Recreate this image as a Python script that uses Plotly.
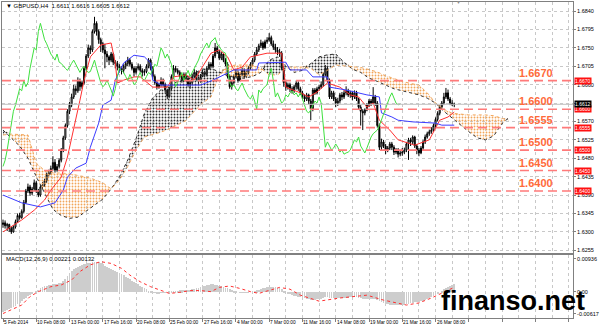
import plotly.graph_objects as go

# ---------------- data (prices in pips: 6612 -> 1.6612) ----------------
FIRST_OPEN = 6318
CLOSE = [
 6322,6315,6318,6308,6300,6312,6325,6340,6335,6350,
 6372,6400,6410,6395,6405,6420,6400,6390,6410,6415,
 6425,6440,6445,6455,6470,6451,6460,6475,6500,6530,
 6560,6595,6610,6630,6650,6645,6670,6655,6665,6700,
 6730,6750,6745,6790,6810,6790,6770,6760,6745,6735,
 6728,6720,6735,6715,6712,6705,6700,6695,6705,6712,
 6720,6710,6700,6690,6700,6705,6695,6690,6692,6705,
 6720,6700,6680,6665,6655,6660,6671,6660,6647,6632,
 6650,6680,6700,6695,6690,6680,6670,6685,6675,6660,
 6665,6680,6690,6675,6670,6680,6690,6685,6700,6710,
 6705,6730,6750,6740,6725,6735,6720,6710,6680,6655,
 6665,6680,6690,6670,6685,6695,6680,6690,6700,6710,
 6720,6735,6745,6755,6762,6750,6765,6769,6775,6760,
 6752,6745,6740,6737,6700,6665,6654,6660,6650,6645,
 6655,6664,6650,6640,6630,6625,6635,6620,6600,6647,
 6640,6650,6654,6660,6685,6700,6670,6630,6640,6625,
 6615,6620,6635,6630,6640,6645,6635,6640,6630,6640,
 6625,6605,6595,6591,6598,6610,6620,6615,6630,6615,
 6560,6507,6520,6510,6500,6505,6515,6507,6495,6500,
 6490,6493,6495,6500,6515,6525,6520,6532,6510,6500,
 6493,6505,6520,6532,6540,6545,6549,6560,6575,6590,
 6605,6615,6630,6640,6625,6615,6611,6612]
HIGH = [
 6330,6328,6322,6320,6312,6316,6330,6345,6346,6355,
 6378,6405,6418,6415,6410,6428,6425,6405,6415,6422,
 6430,6445,6452,6462,6485,6478,6466,6480,6505,6535,
 6565,6600,6618,6638,6660,6658,6678,6675,6670,6705,
 6735,6758,6756,6795,6826,6815,6795,6775,6765,6760,
 6742,6732,6740,6738,6720,6718,6710,6705,6710,6718,
 6728,6725,6715,6705,6705,6712,6710,6700,6698,6710,
 6725,6724,6705,6685,6670,6665,6678,6675,6665,6650,
 6655,6685,6708,6706,6700,6695,6685,6690,6690,6680,
 6672,6685,6698,6695,6680,6686,6696,6694,6705,6716,
 6715,6735,6762,6755,6745,6740,6738,6725,6715,6685,
 6672,6685,6698,6695,6690,6702,6700,6695,6706,6715,
 6725,6740,6752,6760,6770,6766,6770,6776,6786,6780,
 6768,6760,6752,6748,6742,6705,6672,6665,6665,6656,
 6660,6670,6668,6655,6645,6636,6640,6638,6625,6652,
 6652,6655,6660,6668,6690,6708,6705,6675,6645,6645,
 6630,6628,6640,6642,6646,6656,6650,6645,6645,6646,
 6645,6628,6610,6600,6602,6615,6625,6625,6654,6635,
 6620,6565,6528,6525,6515,6510,6520,6520,6512,6505,
 6505,6500,6505,6506,6520,6530,6530,6536,6535,6515,
 6505,6510,6525,6538,6545,6550,6556,6565,6580,6595,
 6610,6620,6640,6652,6648,6630,6622,6616]
LOW = [
 6310,6308,6302,6300,6295,6298,6308,6322,6330,6332,
 6345,6368,6395,6388,6390,6400,6395,6385,6386,6405,
 6410,6420,6435,6440,6450,6445,6447,6455,6470,6495,
 6525,6555,6588,6605,6625,6635,6640,6645,6650,6660,
 6695,6725,6735,6740,6785,6780,6760,6740,6738,6700,
 6715,6708,6715,6708,6700,6695,6690,6685,6688,6698,
 6705,6705,6695,6680,6685,6695,6690,6680,6682,6688,
 6700,6695,6675,6660,6648,6650,6655,6655,6640,6625,
 6628,6645,6675,6690,6685,6675,6665,6668,6670,6655,
 6650,6660,6676,6670,6662,6665,6678,6678,6680,6696,
 6700,6700,6725,6735,6720,6720,6715,6705,6675,6650,
 6648,6660,6675,6665,6668,6680,6675,6676,6685,6696,
 6705,6715,6730,6740,6750,6745,6748,6760,6765,6755,
 6745,6738,6732,6728,6695,6655,6645,6648,6642,6638,
 6640,6648,6645,6635,6625,6618,6620,6612,6573,6595,
 6635,6636,6645,6650,6655,6680,6665,6625,6625,6620,
 6605,6608,6615,6622,6625,6634,6630,6628,6622,6625,
 6620,6600,6560,6549,6585,6595,6605,6608,6612,6608,
 6555,6500,6500,6505,6490,6495,6500,6500,6488,6490,
 6482,6485,6486,6490,6495,6476,6510,6515,6505,6490,
 6485,6490,6500,6515,6528,6535,6540,6545,6555,6570,
 6585,6600,6610,6625,6620,6610,6608,6605]

# Tenkan-sen (red) and Kijun-sen (blue), read at bar indices
TK_IDX = [0,9,15,20,23,28,31,34,37,39,42,47,52,54,55,58,63,66,72,79,82,88,92,95,100,104,108,111,115,119,
          127,134,136,143,147,151,156,162,167,171,175,178,181,186,190,198,205,210,214,217]
TK_VAL = [6300,6329,6353,6378,6402,6434,6483,6549,6622,6671,6728,6757,6762,6713,6664,6671,6679,6679,6654,6654,
          6679,6684,6671,6696,6737,6745,6728,6696,6703,6728,6737,6737,6654,6640,6630,6642,6664,6654,6635,6630,
          6605,6615,6573,6549,6525,6512,6525,6573,6581,6593]
KJ_IDX = [0,9,18,25,29,31,35,40,42,46,48,52,54,58,63,68,71,72,76,95,101,111,122,123,136,138,146,149,156,157,
          165,175,181,182,187,190,197,208,211,217]
KJ_VAL = [6390,6371,6361,6371,6402,6434,6456,6468,6507,6566,6610,6622,6671,6713,6732,6728,6713,6671,6659,6659,
          6671,6696,6696,6713,6715,6696,6696,6679,6679,6654,6647,6635,6630,6591,6581,6573,6569,6566,6561,6561]

# Senkou span A / B (cloud), read every 4 bars (+ last projected bar)
CLOUD_IDX = list(range(0, 244, 4)) + [243]
SPAN_A = [6549,6529,6510,6480,6435,6395,6355,6340,6333,6336,
          6350,6365,6380,6405,6435,6476,6528,6590,6628,6648,
          6658,6668,6680,6690,6698,6700,6691,6682,6677,6676,
          6680,6690,6720,6728,6705,6690,6695,6712,6728,6733,
          6735,6715,6698,6690,6676,6668,6658,6650,6645,6640,
          6635,6627,6615,6595,6578,6560,6545,6530,6525,6535,
          6565,6578]
SPAN_B = [6537,6539,6538,6537,6468,6450,6444,6444,6442,6438,
          6434,6428,6420,6405,6427,6460,6500,6532,6538,6544,
          6552,6563,6572,6595,6615,6630,6684,6705,6708,6708,
          6708,6700,6684,6684,6700,6703,6703,6700,6684,6695,
          6708,6706,6704,6702,6697,6691,6682,6675,6668,6663,
          6659,6640,6615,6600,6590,6588,6586,6586,6586,6584,
          6578,6573]

# MACD histogram (units of 1e-5) per bar and signal line
HIST = [
 -560,-540,-515,-490,-460,-425,-385,-345,-300,-255,
 -210,-165,-120,-75,-35,0,35,70,105,135,
 160,180,195,205,215,225,235,245,255,300,
 380,450,530,590,640,680,710,740,770,790,
 805,820,830,840,848,855,860,830,790,750,
 710,680,650,625,595,570,540,505,470,435,
 400,360,320,285,250,215,180,150,110,75,
 40,10,-10,-20,-30,-30,-25,-20,-10,0,
 10,20,30,30,40,50,50,60,60,60,
 70,80,90,100,120,140,160,180,200,210,
 220,215,205,190,175,160,140,120,100,80,
 60,40,20,0,-10,-20,-20,-15,-10,0,
 10,30,50,70,90,110,125,135,140,140,
 140,135,125,110,80,40,0,-30,-60,-80,
 -100,-120,-135,-150,-165,-180,-190,-200,-215,-220,
 -220,-210,-200,-185,-165,-150,-150,-160,-170,-175,
 -180,-180,-175,-170,-165,-160,-160,-155,-150,-150,
 -150,-160,-175,-190,-200,-205,-205,-200,-195,-195,
 -220,-260,-290,-310,-330,-345,-355,-360,-365,-365,
 -365,-365,-360,-355,-345,-335,-320,-305,-295,-285,
 -275,-260,-245,-225,-200,-170,-140,-110,-80,-40,
 0,40,80,120,155,180,205,221]
SIG_IDX = [0,4,9,13,17,23,28,33,37,42,47,52,57,61,66,71,76,80,85,90,95,100,104,109,114,119,123,128,133,138,
           143,152,162,175,183,194,200,206,212,217]
SIG_VAL = [-610,-510,-370,-130,10,150,200,340,580,770,860,810,670,480,290,150,40,-40,-10,40,40,10,130,170,100,
           10,-40,40,130,80,-90,-260,-170,-90,-230,-370,-310,-170,0,132]

LEVELS = [1.6670, 1.6600, 1.6555, 1.6500, 1.6450, 1.6400]
BID = 1.6612
X_LABELS = ["5 Feb 2014", "10 Feb 08:00", "13 Feb 00:00", "17 Feb 16:00", "20 Feb 08:00",
            "25 Feb 00:00", "27 Feb 16:00", "4 Mar 00:00", "7 Mar 00:00", "11 Mar 16:00",
            "14 Mar 08:00", "19 Mar 00:00", "21 Mar 16:00", "26 Mar 08:00"]
BARS_PER_LABEL = 16

# ---------------- build ----------------
assert len(CLOSE) == len(HIGH) == len(LOW) == len(HIST) == 218
assert len(SPAN_A) == len(SPAN_B) == len(CLOUD_IDX)
assert len(TK_IDX) == len(TK_VAL) and len(KJ_IDX) == len(KJ_VAL) and len(SIG_IDX) == len(SIG_VAL)

def px(v):
    return 1.0 + v / 10000.0

n = len(CLOSE)
idx = list(range(n))
opens = [FIRST_OPEN] + CLOSE[:-1]
o = [px(v) for v in opens]
c = [px(v) for v in CLOSE]
h = [max(px(a), oo, cc) for a, oo, cc in zip(HIGH, o, c)]
l = [min(px(a), oo, cc) for a, oo, cc in zip(LOW, o, c)]

A = [px(v) for v in SPAN_A]
B = [px(v) for v in SPAN_B]
MX = [max(a, b) for a, b in zip(A, B)]

FONT = "Liberation Sans"
ORANGE = "#F2A65A"
fig = go.Figure()
nohover = dict(hoverinfo="skip", showlegend=False)

# cloud: orange where B above A, dark where A above B
fig.add_trace(go.Scatter(x=CLOUD_IDX, y=A, mode="lines", line=dict(width=0), **nohover))
fig.add_trace(go.Scatter(x=CLOUD_IDX, y=MX, mode="lines", line=dict(width=0), fill="tonexty",
                         fillcolor="rgba(0,0,0,0)",
                         fillpattern=dict(shape=".", fgcolor=ORANGE, bgcolor="rgba(0,0,0,0)",
                                          size=3, solidity=0.3, fillmode="replace"), **nohover))
fig.add_trace(go.Scatter(x=CLOUD_IDX, y=B, mode="lines", line=dict(width=0), **nohover))
fig.add_trace(go.Scatter(x=CLOUD_IDX, y=MX, mode="lines", line=dict(width=0), fill="tonexty",
                         fillcolor="rgba(0,0,0,0)",
                         fillpattern=dict(shape=".", fgcolor="#303030", bgcolor="rgba(0,0,0,0)",
                                          size=3, solidity=0.3, fillmode="replace"), **nohover))
fig.add_trace(go.Scatter(x=CLOUD_IDX, y=A, mode="lines", line=dict(color="#303030", width=1, dash="dot"), **nohover))
fig.add_trace(go.Scatter(x=CLOUD_IDX, y=B, mode="lines", line=dict(color=ORANGE, width=1, dash="dot"), **nohover))

# candles
fig.add_trace(go.Candlestick(x=idx, open=o, high=h, low=l, close=c,
                             increasing=dict(fillcolor="#FFFFFF", line=dict(color="#000000", width=1)),
                             decreasing=dict(fillcolor="#000000", line=dict(color="#000000", width=1)),
                             whiskerwidth=0, showlegend=False, hoverinfo="skip"))

# ichimoku lines
fig.add_trace(go.Scatter(x=TK_IDX, y=[px(v) for v in TK_VAL], mode="lines",
                         line=dict(color="#FF3030", width=1), **nohover))
fig.add_trace(go.Scatter(x=KJ_IDX, y=[px(v) for v in KJ_VAL], mode="lines",
                         line=dict(color="#3C3CFF", width=1), **nohover))
LAG = 26
fig.add_trace(go.Scatter(x=[i - LAG for i in idx[LAG:]], y=c[LAG:], mode="lines",
                         line=dict(color="#3FE03F", width=1), **nohover))

# MACD
fig.add_trace(go.Bar(x=idx, y=[v / 100000.0 for v in HIST], marker=dict(color="#CDCDCD", line=dict(width=0)),
                     width=0.38, xaxis="x2", yaxis="y2", **nohover))
fig.add_trace(go.Scatter(x=SIG_IDX, y=[v / 100000.0 for v in SIG_VAL], mode="lines",
                         line=dict(color="#FF3030", width=1, dash="dot"), xaxis="x2", yaxis="y2", **nohover))

# ---------------- layout ----------------
GRID = "#C8C8C8"
AX = "#808080"
xr = [-0.48, 274.1]
major = list(range(0, 280, BARS_PER_LABEL))
minor = list(range(BARS_PER_LABEL // 2, 280, BARS_PER_LABEL))
ytv = [round(1.6255 + 0.0045 * k, 4) for k in range(14)]
# the 1.6615 label sits under the current-price box in the reference
ytt = ["" if abs(v - 1.6615) < 1e-6 else "%.4f" % v for v in ytv]

shapes = []
shapes.append(dict(type="line", xref="paper", x0=0, x1=1, yref="y", y0=BID, y1=BID,
                   line=dict(color="#C0C0C0", width=1), layer="above"))
for lv in LEVELS:
    shapes.append(dict(type="line", xref="paper", x0=0, x1=1, yref="y", y0=lv, y1=lv,
                       line=dict(color="#FF7A7A", width=1.6, dash="9px,5px"), layer="above"))

ann = []
ann.append(dict(text="\u25BC GBPUSD,H4  1.6611 1.6616 1.6605 1.6612", xref="paper", yref="paper",
                x=0.004, y=0.987, xanchor="left", yanchor="middle", showarrow=False,
                font=dict(family=FONT, size=6, color="#000000")))
ann.append(dict(text="MACD(12,26,9) 0.00221 0.00132", xref="paper", yref="paper",
                x=0.004, y=0.188, xanchor="left", yanchor="middle", showarrow=False,
                font=dict(family=FONT, size=6, color="#000000")))
ann.append(dict(text="\u25BC", xref="paper", yref="paper", x=0.80, y=1.0, xanchor="center",
                yanchor="middle", showarrow=False, font=dict(family=FONT, size=5, color="#909090")))
for k, lab in enumerate(X_LABELS):
    ann.append(dict(text=lab, xref="x2", yref="paper", x=k * BARS_PER_LABEL, y=-0.0127,
                    xanchor="left", yanchor="middle", showarrow=False, xshift=-1,
                    font=dict(family=FONT, size=4.8, color="#000000")))
for lv in LEVELS:
    ann.append(dict(text="<b>%.4f</b>" % lv, xref="paper", yref="y", x=0.969, y=lv,
                    xanchor="right", yanchor="bottom", yshift=0, showarrow=False,
                    font=dict(family=FONT, size=11, color="#FF6A3A")))
    ann.append(dict(text="%.4f" % lv, xref="paper", yref="y", x=1, y=lv, xanchor="left",
                    yanchor="middle", xshift=1, showarrow=False, bgcolor="#FF1010", borderpad=0,
                    font=dict(family=FONT, size=5, color="#FFFFFF")))
ann.append(dict(text="%.4f" % BID, xref="paper", yref="y", x=1, y=BID, xanchor="left",
                yanchor="middle", xshift=1, showarrow=False, bgcolor="#000000", borderpad=0,
                font=dict(family=FONT, size=5, color="#FFFFFF")))
ann.append(dict(text="<b>finanso.net</b>", xref="paper", yref="paper", x=0.8955, y=0.054,
                xanchor="center", yanchor="middle", showarrow=False,
                font=dict(family=FONT, size=27, color="#000000")))

fig.update_layout(
    width=600, height=330, margin=dict(l=1, r=25, t=2, b=12),
    paper_bgcolor="#FFFFFF", plot_bgcolor="#FFFFFF", showlegend=False, bargap=0,
    xaxis=dict(domain=[0, 1], range=xr, anchor="y", tickvals=major, showticklabels=False, ticks="",
               showgrid=True, gridcolor=GRID, griddash="dot", gridwidth=1,
               minor=dict(tickvals=minor, showgrid=True, gridcolor=GRID, griddash="dot", gridwidth=1, ticks=""),
               showline=True, mirror=True, linecolor=AX, linewidth=1, zeroline=False,
               rangeslider=dict(visible=False), fixedrange=True),
    yaxis=dict(domain=[0.2057, 1], range=[1.62483, 1.68622], anchor="x", side="right",
               tickvals=ytv, ticktext=ytt, ticks="outside", ticklen=2,
               tickcolor=AX, tickfont=dict(family=FONT, size=5.5, color="#000000"),
               showgrid=True, gridcolor=GRID, griddash="dot", gridwidth=1,
               showline=True, mirror=True, linecolor=AX, linewidth=1, zeroline=False),
    xaxis2=dict(domain=[0, 1], range=xr, anchor="y2", matches="x", tickvals=major, showticklabels=False,
                ticks="outside", ticklen=3, tickcolor=AX,
                showgrid=True, gridcolor=GRID, griddash="dot", gridwidth=1,
                minor=dict(tickvals=minor, showgrid=True, gridcolor=GRID, griddash="dot", gridwidth=1, ticks=""),
                showline=True, mirror=True, linecolor=AX, linewidth=1, zeroline=False),
    yaxis2=dict(domain=[0, 0.1994], range=[-0.00737, 0.01049], anchor="x2", side="right",
                tickvals=[0.00936, 0.0, -0.00617], ticktext=["0.00936", "0.00", "-0.00617"],
                ticks="outside", ticklen=2, tickcolor=AX,
                tickfont=dict(family=FONT, size=5.5, color="#000000"),
                showgrid=False, showline=True, mirror=True, linecolor=AX, linewidth=1, zeroline=False),
    shapes=shapes, annotations=ann,
)

fig.write_html("out.html")
